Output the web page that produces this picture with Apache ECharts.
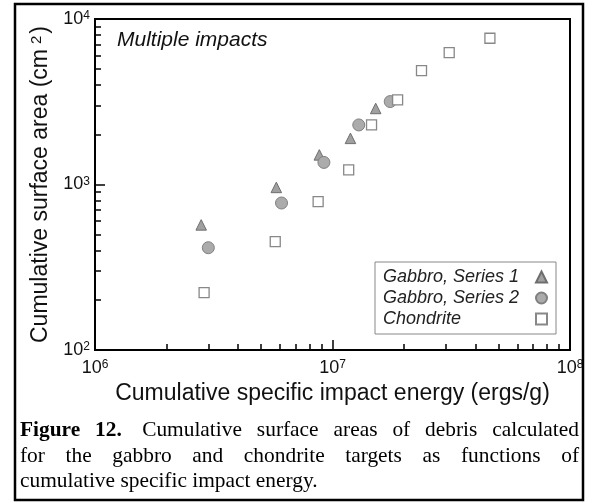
<!DOCTYPE html>
<html><head><meta charset="utf-8">
<script src="https://cdn.jsdelivr.net/npm/echarts@6/dist/echarts.min.js"></script>
<style>html,body{margin:0;padding:0;background:#fff}#c{width:595px;height:503px}</style>
</head><body><div id="c"></div>
<script>
// ---- data ----
const gabbro1X = [2.8e6, 5.8e6, 8.8e6, 1.19e7, 1.52e7];
const gabbro1Y = [570, 960, 1510, 1900, 2880];
const gabbro2X = [3.0e6, 6.1e6, 9.2e6, 1.29e7, 1.75e7];
const gabbro2Y = [415, 773, 1360, 2290, 3170];
const chondriteX = [2.88e6, 5.74e6, 8.7e6, 1.17e7, 1.46e7, 1.88e7, 2.37e7, 3.1e7, 4.6e7];
const chondriteY = [222, 452, 787, 1224, 2290, 3250, 4870, 6260, 7650];
const seriesNames = ['Gabbro, Series 1', 'Gabbro, Series 2', 'Chondrite'];
const xRange = [1e6, 1e8];
const yRange = [1e2, 1e4];
const xTitle = 'Cumulative specific impact energy (ergs/g)';
const yTitleMain = 'Cumulative surface area (cm';
const yTitleSup = '2';
const panelLabel = 'Multiple impacts';
const captionLines = [
  'Cumulative surface areas of debris calculated',
  'for the gabbro and chondrite targets as functions of',
  'cumulative specific impact energy.'
];

const zip = (xs, ys) => xs.map((x, i) => [x, ys[i]]);
const SANS = '"Liberation Sans", Arial, sans-serif';
const SERIF = '"Liberation Serif", "Times New Roman", serif';

const expLabel = v => '{b|10}{s|' + Math.round(Math.log10(v)) + '}';
const labelRich = {
  b: { fontSize: 18, fontFamily: SANS, color: '#111' },
  s: { fontSize: 12, fontFamily: SANS, color: '#111', verticalAlign: 'top', padding: [0, 0, 6, 0] }
};

// ---- caption layout (justified text) ----
const CAP_FS = 21.4;
const meas = document.createElement('canvas').getContext('2d');
function textW(t, bold) { meas.font = (bold ? 'bold ' : '') + CAP_FS + 'px ' + SERIF; return meas.measureText(t).width; }
const capLeft = 20, capRight = 579, capY0 = 430.5, capDY = 25.5;
const captionGraphics = [];
captionLines.forEach((line, li) => {
  let words = line.split(' ').map(w => ({ t: w, bold: false, sp: 1 }));
  if (li === 0) {
    words = [{ t: 'Figure', bold: true, sp: 1 }, { t: '12.', bold: true, sp: 2 }].concat(words);
  }
  const justify = li < captionLines.length - 1;
  const spaceW = textW(' ', false);
  let natural = 0;
  words.forEach((w, i) => { natural += textW(w.t, w.bold) + (i < words.length - 1 ? w.sp * spaceW : 0); });
  const stretch = justify ? (capRight - capLeft - natural) / (words.length - 1) : 0;
  let x = capLeft;
  words.forEach((w, i) => {
    captionGraphics.push({
      type: 'text', x: x, y: capY0 + li * capDY,
      style: { text: w.t, fontSize: CAP_FS, fontFamily: SERIF, fontWeight: w.bold ? 'bold' : 'normal',
               fill: '#000', verticalAlign: 'middle', align: 'left' }
    });
    x += textW(w.t, w.bold) + w.sp * spaceW + stretch;
  });
});

const chart = echarts.init(document.getElementById('c'), null, { renderer: 'canvas' });
const axisCommon = {
  type: 'log', logBase: 10, splitNumber: 2,
  axisLine: { show: true, lineStyle: { color: '#000', width: 2 } },
  axisTick: { show: true, inside: true, length: 10, lineStyle: { color: '#000', width: 1.5 } },
  minorTick: { show: true, splitNumber: 9, length: 6, lineStyle: { color: '#000', width: 1.5 } },
  splitLine: { show: false },
  minorSplitLine: { show: false },
  nameLocation: 'middle',
  nameTextStyle: { fontSize: 23, fontFamily: SANS, color: '#111' }
};
chart.setOption({
  backgroundColor: '#fff',
  animation: false,
  textStyle: { fontFamily: SANS },
  title: {
    text: panelLabel, left: 112, top: 25,
    textStyle: { fontSize: 21, fontStyle: 'italic', fontWeight: 'normal', fontFamily: SANS, color: '#111' }
  },
  grid: { left: 95, right: 25, top: 19, bottom: 153, show: true, borderColor: '#000', borderWidth: 2, containLabel: false },
  xAxis: Object.assign({}, axisCommon, {
    min: xRange[0], max: xRange[1], name: xTitle, nameGap: 28,
    axisLabel: { margin: 9, formatter: expLabel, rich: labelRich }
  }),
  yAxis: Object.assign({}, axisCommon, {
    min: yRange[0], max: yRange[1], nameGap: 42,
    name: '{a|' + yTitleMain + '}{s|' + yTitleSup + '}{a|)}',
    nameTextStyle: {
      fontSize: 23, fontFamily: SANS, color: '#111',
      rich: {
        a: { fontSize: 23, fontFamily: SANS, color: '#111' },
        s: { fontSize: 15, fontFamily: SANS, color: '#111', verticalAlign: 'top', padding: [0, 2, 4, 5] }
      }
    },
    axisLabel: { margin: 5, formatter: expLabel, rich: labelRich }
  }),
  legend: {
    orient: 'vertical', left: 375, top: 262, align: 'right',
    padding: [6, 8, 6, 8], itemGap: 3, itemWidth: 11, itemHeight: 11,
    borderColor: '#888', borderWidth: 1, backgroundColor: '#fff',
    formatter: '{t|{name}}',
    textStyle: {
      fontSize: 18, fontStyle: 'italic', fontFamily: SANS, color: '#222',
      rich: { t: { width: 148, align: 'left', fontSize: 18, fontStyle: 'italic', fontFamily: SANS, color: '#222', lineHeight: 18 } }
    },
    data: [
      { name: seriesNames[0], icon: 'triangle' },
      { name: seriesNames[1], icon: 'circle' },
      { name: seriesNames[2], icon: 'rect' }
    ]
  },
  series: [
    { name: seriesNames[0], type: 'scatter', symbol: 'triangle', symbolSize: 10.5,
      itemStyle: { color: '#a0a0a0', borderColor: '#6e6e6e', borderWidth: 1, opacity: 1 },
      data: zip(gabbro1X, gabbro1Y) },
    { name: seriesNames[1], type: 'scatter', symbol: 'circle', symbolSize: 12,
      itemStyle: { color: '#ababab', borderColor: '#808080', borderWidth: 1, opacity: 1 },
      data: zip(gabbro2X, gabbro2Y) },
    { name: seriesNames[2], type: 'scatter', symbol: 'rect', symbolSize: 10,
      itemStyle: { color: '#fff', borderColor: '#888', borderWidth: 1.3, opacity: 1 },
      data: zip(chondriteX, chondriteY) }
  ],
  graphic: [
    { type: 'rect', shape: { x: 15, y: 4, width: 568, height: 496 },
      style: { fill: 'none', stroke: '#000', lineWidth: 2.5 }, silent: true, z: 100 }
  ].concat(captionGraphics)
});
</script>
</body></html>
